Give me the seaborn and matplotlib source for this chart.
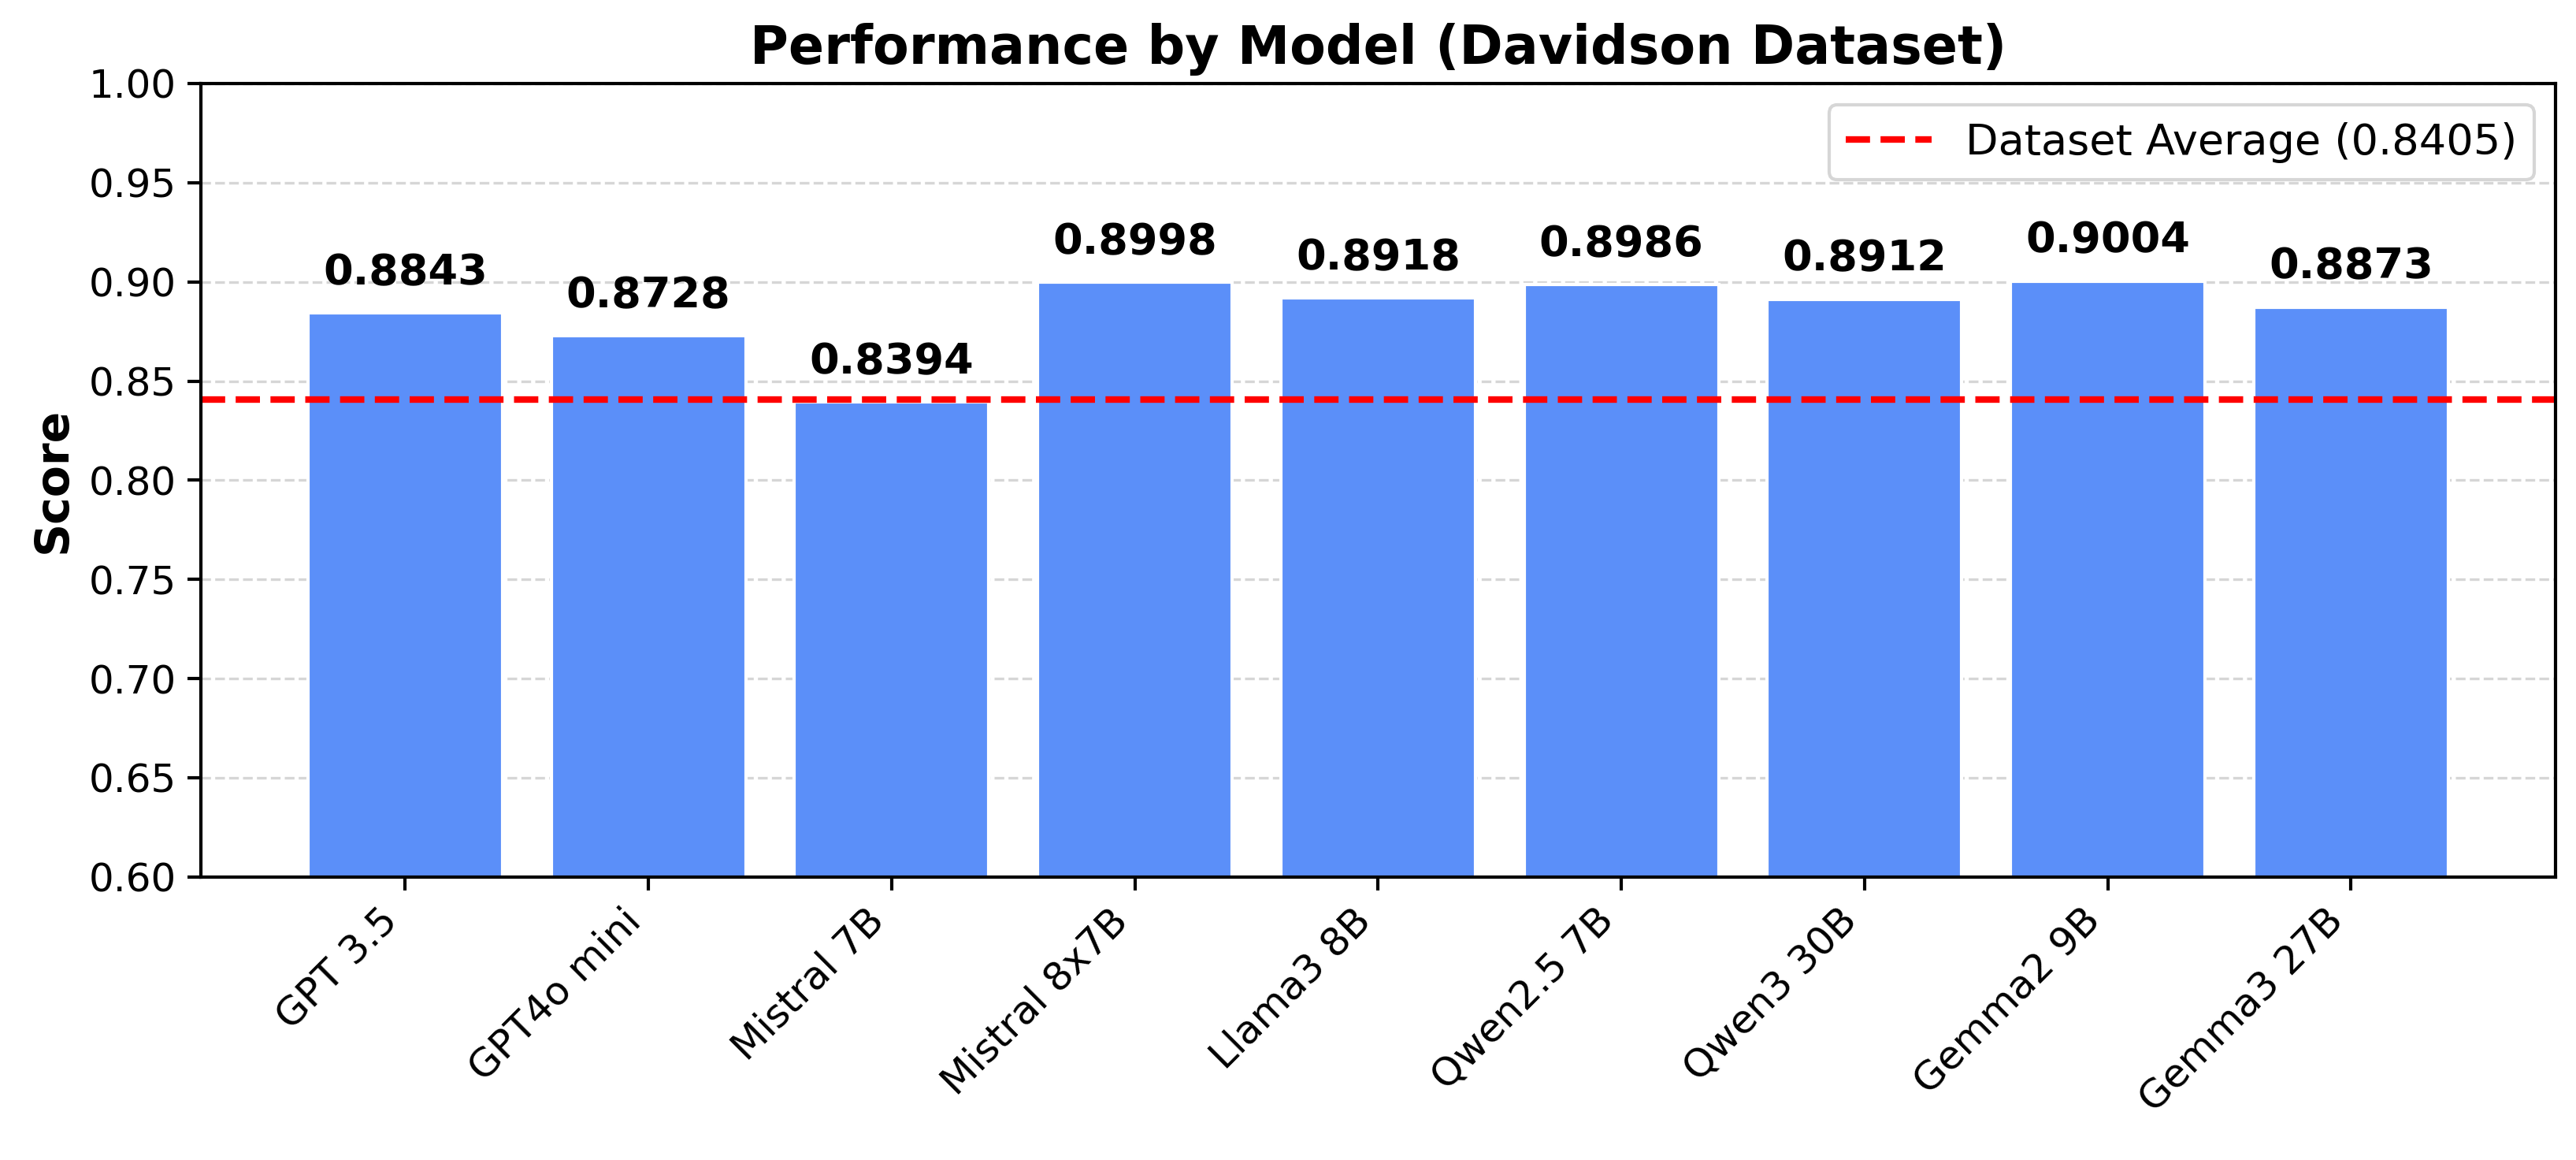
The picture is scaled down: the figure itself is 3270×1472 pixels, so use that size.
import pandas as pd
import seaborn as sns
import matplotlib.pyplot as plt

# model names and scores
models = ['GPT 3.5', 'GPT4o mini', 'Mistral 7B', 'Mistral 8x7B', 'Llama3 8B',
          'Qwen2.5 7B', 'Qwen3 30B', 'Gemma2 9B', 'Gemma3 27B']
scores = [0.8843, 0.8728, 0.8394, 0.8998, 0.8918, 0.8986, 0.8912, 0.9004, 0.8873]
dataset_avg = 0.8405

df = pd.DataFrame({'model': models, 'score': scores})

sns.set_style('white')
plt.rcParams['font.family'] = ['DejaVu Sans']
plt.rcParams['text.color'] = 'black'
plt.rcParams['axes.labelcolor'] = 'black'
plt.rcParams['xtick.color'] = 'black'
plt.rcParams['ytick.color'] = 'black'

fig, ax = plt.subplots(figsize=(10.9, 4.9067), dpi=300)
fig.subplots_adjust(left=0.078, right=0.992, top=0.928, bottom=0.244)

sns.barplot(data=df, x='model', y='score', color='#5B8FF9', saturation=1,
            width=0.8, ax=ax)

# value labels above each bar
for i, v in enumerate(scores):
    ax.text(i, v + 0.01, f'{v:.4f}', ha='center', va='bottom',
            fontsize=13, fontweight='bold', color='black')

ax.axhline(dataset_avg, color='red', linestyle='--', linewidth=2,
           label=f'Dataset Average ({dataset_avg:.4f})')

ax.set_ylim(0.6, 1.0)
ax.set_xlim(-0.84, len(models) - 0.16)
ax.set_yticks([0.60, 0.65, 0.70, 0.75, 0.80, 0.85, 0.90, 0.95, 1.00])
ax.yaxis.grid(True, linestyle='--', color='#cccccc', alpha=0.8, linewidth=0.8)
ax.xaxis.grid(False)
ax.set_axisbelow(True)

ax.set_title('Performance by Model (Davidson Dataset)', fontsize=16,
             fontweight='bold', color='black')
ax.set_ylabel('Score', fontsize=14, fontweight='bold', color='black')
ax.set_xlabel('')
ax.tick_params(axis='both', labelsize=12, length=4, width=1, left=True,
               bottom=True, colors='black')
plt.setp(ax.get_xticklabels(), rotation=45, ha='right')
for s in ax.spines.values():
    s.set_color('black')
    s.set_linewidth(1)

ax.legend(loc='upper right', fontsize=13)

fig.savefig('out.png', dpi=300)
